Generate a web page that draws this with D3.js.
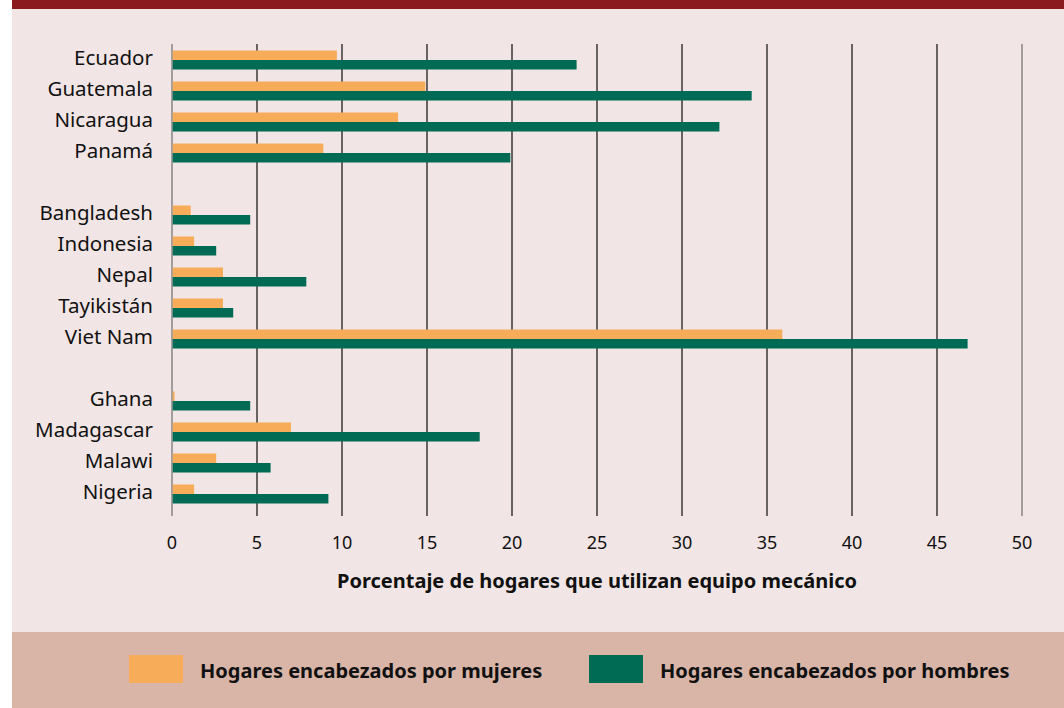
<!DOCTYPE html>
<html>
<head>
<meta charset="utf-8">
<script src="https://cdn.jsdelivr.net/npm/d3@7"></script>
<style>
  html, body { margin: 0; padding: 0; background: #ffffff; }
  svg { display: block; font-family: "Noto Sans", "Open Sans", sans-serif; }
</style>
</head>
<body>
<svg id="chart" width="1064" height="708"></svg>
<script>
/* ------------------ data ------------------ */

// blank strings are the gaps between the regional groups
const countries = [
  "Ecuador", "Guatemala", "Nicaragua", "Panamá", "",
  "Bangladesh", "Indonesia", "Nepal", "Tayikistán", "Viet Nam", " ",
  "Ghana", "Madagascar", "Malawi", "Nigeria"
];
const women = [9.7, 14.9, 13.3, 8.9, null, 1.1, 1.3, 3.0, 3.0, 35.9, null, 0.15, 7.0, 2.6, 1.3];
const men = [23.8, 34.1, 32.2, 19.9, null, 4.6, 2.6, 7.9, 3.6, 46.8, null, 4.6, 18.1, 5.8, 9.2];
const xTicks = [0, 5, 10, 15, 20, 25, 30, 35, 40, 45, 50];
const legendLabels = ["Hogares encabezados por mujeres", "Hogares encabezados por hombres"];

/* ------------------ constants ------------------ */

const W = 1064, H = 708;
const COLOR_W = "#f7ac5a";
const COLOR_M = "#006b54";
const BAR_H = 9.5;

/* ------------------ render ------------------ */

const svg = d3.select("#chart");

// panels
svg.append("rect").attr("x", 12).attr("y", 0).attr("width", W - 12).attr("height", H).attr("fill", "#f1e6e5");
svg.append("rect").attr("x", 12).attr("y", 0).attr("width", W - 12).attr("height", 9).attr("fill", "#8b1a1e");
svg.append("rect").attr("x", 12).attr("y", 632).attr("width", W - 12).attr("height", H - 632).attr("fill", "#d9b5a8");

const x = d3.scaleLinear().domain([0, 50]).range([172, 1022]);
const y = d3.scaleBand().domain(countries).range([44.5, 509.5]);
const mid = d => y(d) + y.bandwidth() / 2;

// grid lines
svg.append("g")
  .selectAll("line")
  .data(xTicks)
  .join("line")
  .attr("x1", d => x(d)).attr("x2", d => x(d))
  .attr("y1", 44).attr("y2", 516)
  .attr("stroke", d => (d === 0 || d === 50) ? "#777" : "#1e1e1e")
  .attr("stroke-width", 1.3);

// tick labels
svg.append("g")
  .selectAll("text")
  .data(xTicks)
  .join("text")
  .attr("x", d => x(d))
  .attr("y", 549)
  .attr("text-anchor", "middle")
  .attr("font-size", 18)
  .attr("fill", "#111")
  .text(d => d);

// axis title
svg.append("text")
  .attr("x", (x(0) + x(50)) / 2)
  .attr("y", 588)
  .attr("text-anchor", "middle")
  .attr("font-size", 20)
  .attr("font-weight", "bold")
  .attr("fill", "#111")
  .text("Porcentaje de hogares que utilizan equipo mecánico");

const rows = countries.map((c, i) => ({ c, w: women[i], m: men[i] })).filter(r => r.w !== null);

// bars
const bars = svg.append("g");
bars.selectAll("rect.w")
  .data(rows)
  .join("rect")
  .attr("class", "w")
  .attr("x", x(0) + 0.7)
  .attr("y", d => mid(d.c) - BAR_H)
  .attr("width", d => x(d.w) - x(0) - 0.7)
  .attr("height", BAR_H)
  .attr("fill", COLOR_W);

bars.selectAll("rect.m")
  .data(rows)
  .join("rect")
  .attr("class", "m")
  .attr("x", x(0) + 0.7)
  .attr("y", d => mid(d.c))
  .attr("width", d => x(d.m) - x(0) - 0.7)
  .attr("height", BAR_H)
  .attr("fill", COLOR_M);

// country labels
svg.append("g")
  .selectAll("text")
  .data(rows)
  .join("text")
  .attr("x", 153)
  .attr("y", d => mid(d.c) + 4.5)
  .attr("text-anchor", "end")
  .attr("font-size", 20.5)
  .attr("fill", "#111")
  .text(d => d.c);

/* ---- legend ---- */

const legend = svg.append("g")
  .selectAll("g")
  .data(legendLabels)
  .join("g")
  .attr("transform", (d, i) => `translate(${i === 0 ? 129 : 589}, 655)`);

legend.append("rect")
  .attr("width", 54)
  .attr("height", 28)
  .attr("fill", (d, i) => i === 0 ? COLOR_W : COLOR_M);

legend.append("text")
  .attr("x", 71)
  .attr("y", 23)
  .attr("font-size", 20)
  .attr("font-weight", "bold")
  .attr("fill", "#111")
  .text(d => d);
</script>
</body>
</html>
